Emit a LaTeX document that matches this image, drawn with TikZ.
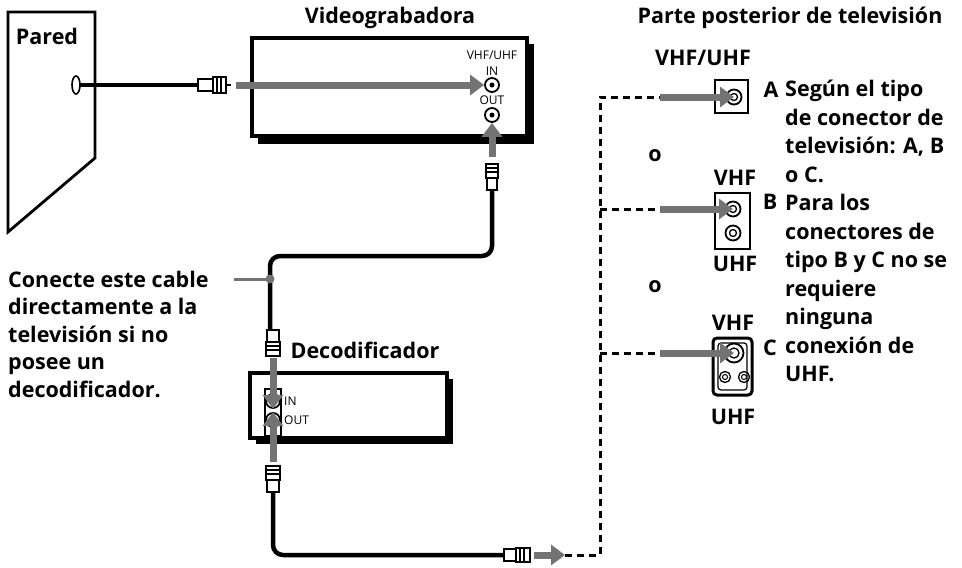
\documentclass[tikz,border=0pt]{standalone}
\usepackage{fontspec}
\setmainfont{Open Sans}
\usetikzlibrary{arrows.meta, positioning, calc}

\begin{document}
\begin{tikzpicture}[
    x=1pt, y=-1pt,
    lbl/.style={font=\fontsize{21.5}{27.5}\selectfont\bfseries, inner sep=0pt},
    small/.style={font=\fontsize{12}{13}\selectfont, inner sep=0pt},
    jack/.style={draw, circle, line width=1.8pt, minimum size=14pt, inner sep=0pt},
    cable/.style={line width=4.5pt, rounded corners=10pt},
    feed/.style={line width=7pt, draw=black!55, -{Triangle[length=14pt,width=20pt]}},
    dashedline/.style={line width=3pt, dash pattern=on 7pt off 5pt},
    unit/.style={draw, line width=3.2pt, fill=white},
    shade/.style={fill=black},
    plug/.style={line width=1.8pt, fill=white},
]
\useasboundingbox (0,0) rectangle (962,568);

% Wall
\draw[line width=2.8pt] (8,12) -- (95,12) -- (95,158) -- (8,232) -- cycle;
\node[lbl] (wall) at (47,36) {Pared};
\draw[line width=1.6pt] (76,85) ellipse (4 and 9);
\coordinate (walljack) at (80,85);

% VCR
\fill[shade] (258,44) rectangle (534,144);
\draw[unit] (252,38) rectangle (527,136);
\node[lbl] (vcrtitle) at (390,18) {Videograbadora};
\node[small] at (492,55) {VHF/UHF};
\node[small] at (492,71) {IN};
\node[jack] (vcrin) at (492,85) {};
\node[small] at (492,100) {OUT};
\node[jack] (vcrout) at (492,115) {};
\fill (vcrin) circle (2.5); \fill (vcrout) circle (2.5);

% wall cable
\coordinate (plugA) at (200,85);
\draw[cable] (walljack) -- (plugA);
\draw[plug] (198,79) rectangle (213,91);
\draw[plug] (213,77) rectangle (226,93);
\draw[line width=1.6pt] (217,77) -- (217,93) (221,77) -- (221,93) (226,85) -- (231,85);
\draw[feed] (236,85) -- (vcrin.west);

% VCR out cable
\draw[feed] (492,157) -- (vcrout.south);
\draw[plug] (486,164) rectangle (498,178);
\draw[plug] (487,178) rectangle (497,190);
\draw[line width=1.4pt] (486,168) -- (498,168) (486,172) -- (498,172);
\coordinate (bend1) at (270,256);
\draw[cable] (492,190) |- (bend1) -- (270,330);

% note
\coordinate (notedot) at (270,279);
\fill[black!55] (notedot) circle (4.5);
\draw[line width=3pt, black!55] (234,279) -- (notedot);
\node[lbl, anchor=west, align=left] (note) at (8,334)
    {Conecte este cable\\directamente a la\\televisión si no\\posee un\\decodificador.};

% Decoder
\fill[shade] (256,379) rectangle (453,444);
\draw[unit] (250,373) rectangle (447,438);
\node[lbl] (dectitle) at (365,350) {Decodificador};
\draw[line width=1.6pt] (265,389) rectangle (281,436);
\node[jack] (decin) at (273,401) {};
\node[jack] (decout) at (273,420) {};
\fill (decin) circle (2.5); \fill (decout) circle (2.5);
\node[small, anchor=west] at (284,401) {IN};
\node[small, anchor=west] at (284,420) {OUT};
\draw[plug] (267,330) rectangle (279,342);
\draw[plug] (266,342) rectangle (280,356);
\draw[line width=1.4pt] (266,346) -- (280,346) (266,350) -- (280,350);
\draw[feed] (273,358) -- (decin.south);
\draw[feed] (273,462) -- (decout.north);
\draw[plug] (266,466) rectangle (280,480);
\draw[plug] (267,480) rectangle (279,492);
\draw[line width=1.4pt] (266,470) -- (280,470) (266,474) -- (280,474);
\coordinate (plugC) at (505,555);
\draw[cable] (273,492) |- (plugC);
\draw[plug] (504,549) rectangle (516,561);
\draw[plug] (516,548) rectangle (530,562);
\draw[line width=1.4pt] (520,548) -- (520,562) (524,548) -- (524,562);
\coordinate (tvfeed) at (565,555);
\draw[feed] (534,555) -- (tvfeed);

% TV back
\node[lbl] (tvtitle) at (790,18) {Parte posterior de televisión};
\node[lbl] at (703,58) {VHF/UHF};
\draw[line width=1.8pt] (715,80) rectangle (748,113);
\node[jack, minimum size=15pt] (ja) at (734,97) {};
\node[jack, minimum size=7pt, line width=1.3pt] at (734,97) {};
\node[lbl] at (771,90) {A};
\node[lbl] at (655,156) {o};
\node[lbl] at (735,178) {VHF};
\draw[line width=1.8pt] (715,193) rectangle (750,249);
\node[jack, minimum size=15pt] (jb) at (733,209) {};
\node[jack, minimum size=7pt, line width=1.3pt] at (733,209) {};
\node[jack, minimum size=15pt] at (733,233) {};
\node[jack, minimum size=7pt, line width=1.3pt] at (733,233) {};
\node[lbl] at (770,202) {B};
\node[lbl] at (735,264) {UHF};
\node[lbl] at (655,287) {o};
\node[lbl] at (733,323) {VHF};
\draw[line width=3pt, rounded corners=4pt] (713,338) rectangle (752,395);
\draw[line width=1.2pt, rounded corners=3pt] (718,343) rectangle (747,390);
\node[jack, minimum size=19pt] (jc) at (734,353) {};
\node[jack, minimum size=10pt, line width=1.3pt] at (734,353) {};
\foreach \px in {725,744} {
  \node[jack, minimum size=11pt, line width=1.3pt] at (\px,377) {};
  \node[jack, minimum size=5pt, line width=1pt] at (\px,377) {};
}
\node[lbl] at (770,348) {C};
\node[lbl] at (733,417) {UHF};

% dashed routes
\coordinate (dashtop) at (600,97);
\draw[dashedline] (tvfeed) -- (600,555) -- (dashtop) -- (660,97);
\draw[dashedline] (600,209) -- (660,209);
\draw[dashedline] (600,353) -- (660,353);
\draw[feed] (660,97) -- (ja.center);
\draw[feed] (660,209) -- (jb.center);
\draw[feed] (660,353) -- (jc.center);

\node[lbl, anchor=north west, align=left, font=\fontsize{21.5}{28.5}\selectfont\bfseries] (info) at (785,80)
    {Según el tipo\\de conector de\\televisión: A, B\\o C.\\Para los\\conectores de\\tipo B y C no se\\requiere\\ninguna\\conexión de\\UHF.};
\end{tikzpicture}
\end{document}
